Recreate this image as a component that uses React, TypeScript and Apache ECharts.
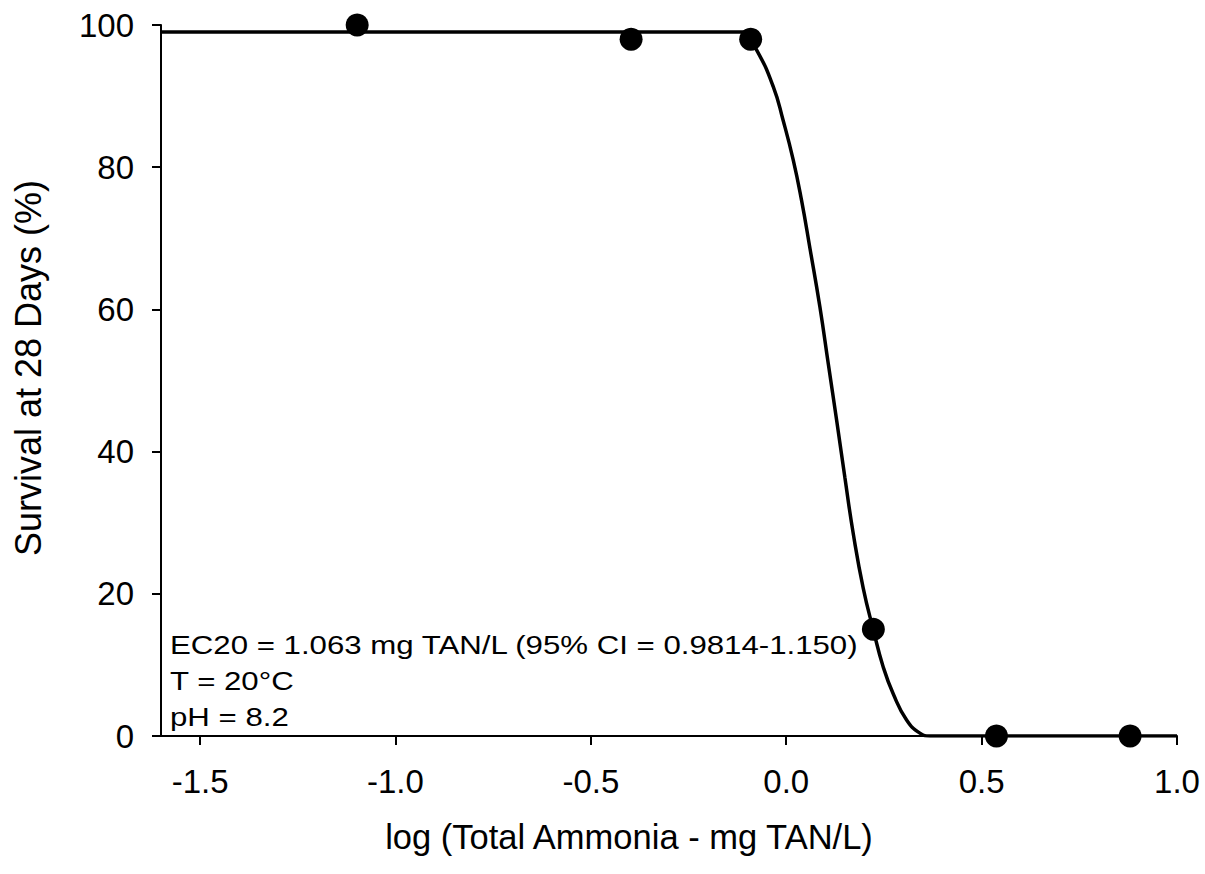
import React, { useEffect, useRef } from "react";
import * as echarts from "echarts";

const obsX = [-1.098, -0.397, -0.091, 0.223, 0.538, 0.88];
const obsY = [100, 98, 98, 15, 0, 0];

const curveX = [-1.6, -0.11, -0.076, -0.033, -0.008, 0.018, 0.039, 0.061, 0.086, 0.108, 0.129, 0.15, 0.172, 0.197, 0.223, 0.248, 0.274, 0.308, 0.342, 0.368, 1.0];
const curveY = [99, 99, 96.5, 91.3, 86.6, 81.0, 75.4, 68.5, 60.4, 52.2, 44.4, 36.4, 28.3, 20.8, 14.9, 9.75, 5.9, 2.25, 0.4, 0, 0];

const xTicks = [-1.5, -1.0, -0.5, 0.0, 0.5, 1.0];
const yTicks = [0, 20, 40, 60, 80, 100];

const xTitle = "log (Total Ammonia - mg TAN/L)";
const yTitle = "Survival at 28 Days (%)";
const noteLines = ["EC20 = 1.063 mg TAN/L (95% CI = 0.9814-1.150)", "T = 20°C", "pH = 8.2"];

const FONT = "'Liberation Sans', Arial, Helvetica, sans-serif";

export default function App() {
  const ref = useRef<HTMLDivElement>(null);
  useEffect(() => {
    if (!ref.current) return;
    const chart = echarts.init(ref.current, undefined, { renderer: "svg" });
    const option: any = {
      animation: false,
      backgroundColor: "#ffffff",
      grid: { left: 161, right: 28, top: 25, bottom: 138, containLabel: false },
      xAxis: {
        type: "value",
        min: -1.6,
        max: 1.0,
        axisLine: { show: true, onZero: false, lineStyle: { color: "#000", width: 2 } },
        axisTick: { show: true, customValues: xTicks, length: 9, inside: false, lineStyle: { color: "#000", width: 2 } },
        axisLabel: {
          customValues: xTicks,
          formatter: (v: number) => v.toFixed(1),
          fontSize: 33,
          color: "#000",
          fontFamily: FONT,
          margin: 29,
        },
        splitLine: { show: false },
      },
      yAxis: {
        type: "value",
        min: 0,
        max: 100,
        interval: 20,
        axisLine: { show: true, onZero: false, lineStyle: { color: "#000", width: 2 } },
        axisTick: { show: true, length: 9, lineStyle: { color: "#000", width: 2 } },
        axisLabel: {
          customValues: yTicks,
          fontSize: 33,
          color: "#000",
          fontFamily: FONT,
          margin: 27,
        },
        splitLine: { show: false },
      },
      graphic: [
        {
          type: "text",
          x: 28,
          y: 368,
          rotation: Math.PI / 2,
          style: {
            text: yTitle,
            fontSize: 36,
            fontFamily: FONT,
            fill: "#000",
            align: "center",
            verticalAlign: "middle",
          },
        },
        {
          type: "text",
          x: 629,
          y: 837,
          style: {
            text: xTitle,
            fontSize: 34.5,
            fontFamily: FONT,
            fill: "#000",
            align: "center",
            verticalAlign: "middle",
          },
        },
        ...noteLines.map((t, i) => ({
          type: "text",
          x: 170,
          y: 645 + i * 36,
          scaleX: 1.2,
          style: {
            text: t,
            fontSize: 26,
            fontFamily: FONT,
            fill: "#000",
            align: "left",
            verticalAlign: "middle",
          },
        })),
      ],
      series: [
        {
          type: "line",
          data: curveX.map((x, i) => [x, curveY[i]]),
          showSymbol: false,
          smooth: 0.5,
          lineStyle: { color: "#000", width: 3.5 },
          z: 2,
        },
        {
          type: "scatter",
          data: obsX.map((x, i) => [x, obsY[i]]),
          symbol: "circle",
          symbolSize: 23,
          itemStyle: { color: "#000", opacity: 1 },
          z: 3,
        },
      ],
    };
    chart.setOption(option);
    return () => chart.dispose();
  }, []);
  return <div ref={ref} style={{ position: "fixed", left: 0, top: 0, width: 1205, height: 874 }} />;
}
